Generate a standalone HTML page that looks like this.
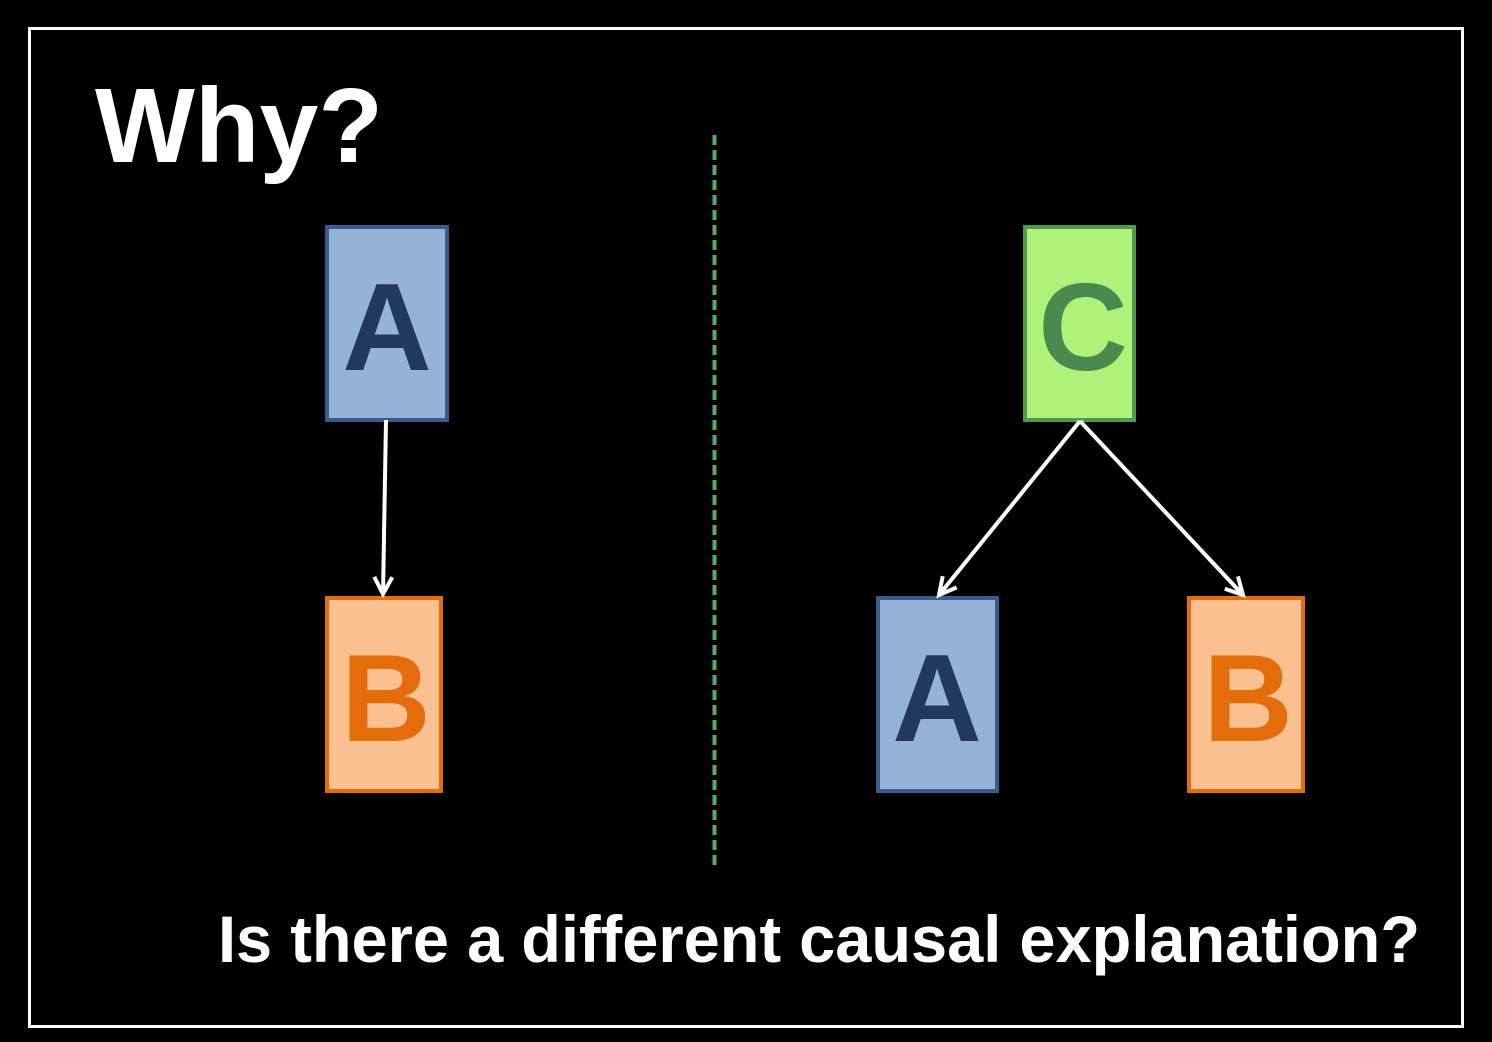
<!DOCTYPE html>
<html><head><meta charset="utf-8"><style>
html,body{margin:0;padding:0;background:#000;}
svg{display:block;}
text{font-family:"Liberation Sans",sans-serif;font-weight:bold;}
</style></head><body>
<svg width="1492" height="1042" viewBox="0 0 1492 1042" xmlns="http://www.w3.org/2000/svg">
<rect width="1492" height="1042" fill="#000"/>
<rect x="29.5" y="28.5" width="1433" height="998" fill="none" stroke="#fff" stroke-width="3"/>
<text x="95" y="162" font-size="106" fill="#fff" textLength="288" lengthAdjust="spacingAndGlyphs">Why?</text>
<line x1="714.5" y1="135" x2="714.5" y2="870" stroke="#5aa865" stroke-width="4" stroke-dasharray="10,5"/>
<defs>
<marker id="ah" markerWidth="24" markerHeight="24" refX="20" refY="12" orient="auto" markerUnits="userSpaceOnUse">
<path d="M3,3 L20,12 L3,21" fill="none" stroke="#fff" stroke-width="4"/>
</marker>
</defs>
<!-- left -->
<rect x="327" y="227" width="120" height="193" fill="#95b3d7" stroke="#385d8a" stroke-width="4"/>
<text x="387" y="370" font-size="124" fill="#1f3a5c" text-anchor="middle">A</text>
<rect x="327" y="598" width="114" height="193" fill="#fac090" stroke="#e46c0a" stroke-width="4"/>
<text x="386" y="741" font-size="124" fill="#e46c0a" text-anchor="middle">B</text>
<line x1="386" y1="420" x2="383" y2="594" stroke="#fff" stroke-width="4" marker-end="url(#ah)"/>
<!-- right -->
<rect x="1025" y="227" width="109" height="193" fill="#aff27a" stroke="#4f9a4f" stroke-width="4"/>
<text x="1083" y="370" font-size="124" fill="#4a8a4e" text-anchor="middle">C</text>
<rect x="878" y="598" width="119" height="193" fill="#95b3d7" stroke="#385d8a" stroke-width="4"/>
<text x="937" y="741" font-size="124" fill="#1f3a5c" text-anchor="middle">A</text>
<rect x="1189" y="598" width="114" height="193" fill="#fac090" stroke="#e46c0a" stroke-width="4"/>
<text x="1248" y="741" font-size="124" fill="#e46c0a" text-anchor="middle">B</text>
<line x1="1080" y1="421" x2="939" y2="595" stroke="#fff" stroke-width="4" marker-end="url(#ah)"/>
<line x1="1080" y1="421" x2="1243" y2="595" stroke="#fff" stroke-width="4" marker-end="url(#ah)"/>
<text x="218" y="962" font-size="66" fill="#fff" textLength="1202" lengthAdjust="spacingAndGlyphs">Is there a different causal explanation?</text>
</svg>
</body></html>
